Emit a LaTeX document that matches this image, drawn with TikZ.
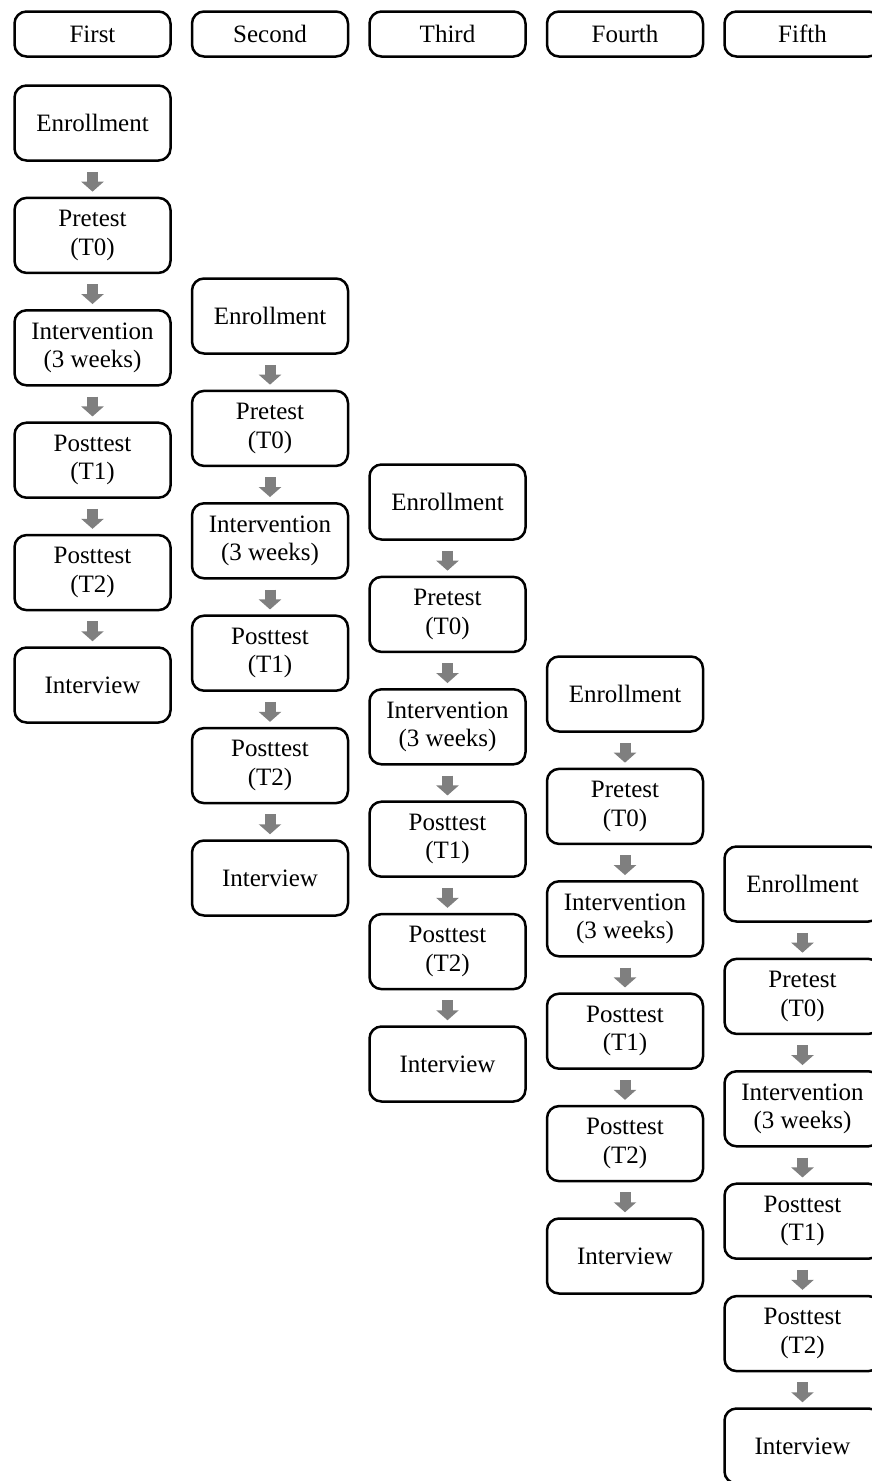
\documentclass[tikz,border=0pt]{standalone}
\usepackage{fontspec}
\setmainfont{Liberation Serif}
\usetikzlibrary{arrows.meta}
\definecolor{arrowgray}{HTML}{7F7F7F}
\begin{document}
\begin{tikzpicture}[x=1pt,y=-1pt,
  box/.style={draw=black, line width=2.5pt, rounded corners=12pt, minimum width=156pt, minimum height=75pt, align=center, inner sep=0pt, font=\fontsize{25}{28.5}\selectfont},
  head/.style={box, minimum height=45pt},
  flow/.style={draw=arrowgray, line width=11pt, -{Triangle[width=22pt,length=10pt]}, shorten <=10pt, shorten >=5pt}]
\useasboundingbox (0,0) rectangle (872,1481);
\clip (0,0) rectangle (872,1481);
\foreach \c/\name/\top in {1/First/84, 2/Second/277, 3/Third/463, 4/Fourth/655, 5/Fifth/845} {
  \pgfmathsetmacro{\cx}{92.5+(\c-1)*177.5}
  \node[head] (h\c) at (\cx,34) {\name};
  \foreach \k/\t in {0/Enrollment, 1/{Pretest\\(T0)}, 2/{Intervention\\(3 weeks)}, 3/{Posttest\\(T1)}, 4/{Posttest\\(T2)}, 5/Interview} {
    \pgfmathsetmacro{\cy}{\top+39+\k*112.4}
    \node[box] (n\c-\k) at (\cx,\cy) {\t};
  }
  \foreach \k [evaluate=\k as \j using int(\k+1)] in {0,...,4} {
    \draw[flow] (n\c-\k.south) -- (n\c-\j.north);
  }
}
\end{tikzpicture}
\end{document}
